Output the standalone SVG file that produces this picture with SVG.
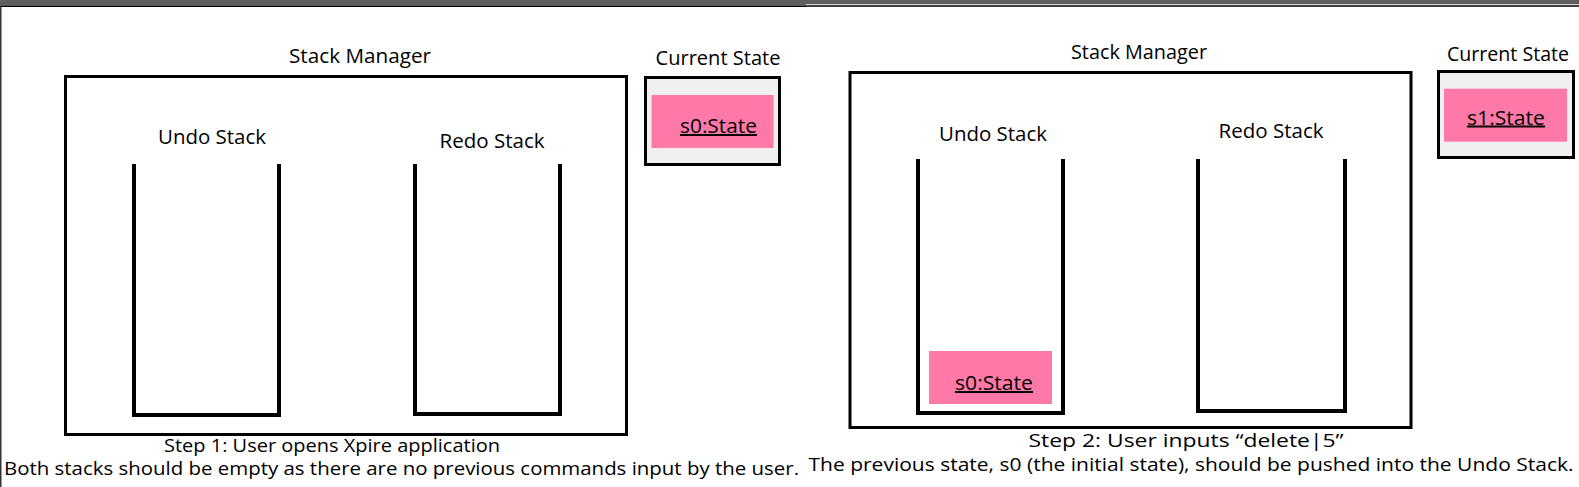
<svg xmlns="http://www.w3.org/2000/svg" width="1579" height="487" viewBox="0 0 1579 487">
<style>
text{font-family:"Open Sans","Noto Sans",sans-serif;font-size:20px;fill:#000;text-anchor:middle}
.cap{font-size:19px}
.frame{fill:none;stroke:#000;stroke-width:3}
.cur{fill:#f0f0f0;stroke:#000;stroke-width:3}
.pink{fill:#ff79a8}
.stack{fill:none;stroke:#000;stroke-width:4;stroke-linejoin:miter;stroke-linecap:square}
.u{text-decoration:underline}
</style>
<rect x="0" y="0" width="1579" height="487" fill="#fff"/>
<rect x="0" y="0" width="806" height="5.5" fill="#5f5f5f"/>
<rect x="0" y="5.5" width="806" height="1.5" fill="#000"/>
<rect x="806" y="0" width="773" height="4.3" fill="#5f5f5f"/>
<rect x="806" y="5.3" width="773" height="1.5" fill="#000"/>
<rect x="0" y="6" width="1.5" height="481" fill="#333"/>

<g id="panel1">
  <g id="stackManager1">
    <rect class="frame" x="65.5" y="76.5" width="561" height="358"/>
    <text x="360" y="63" textLength="142" lengthAdjust="spacingAndGlyphs">Stack Manager</text>
  </g>
  <g id="undoStack1">
    <text x="212" y="144" textLength="108" lengthAdjust="spacingAndGlyphs">Undo Stack</text>
    <path class="stack" d="M134 166 V415 H279 V166"/>
  </g>
  <g id="redoStack1">
    <text x="492" y="148" textLength="105" lengthAdjust="spacingAndGlyphs">Redo Stack</text>
    <path class="stack" d="M415 166 V414 H560 V166"/>
  </g>
  <g id="currentState1">
    <text x="718" y="65" textLength="125" lengthAdjust="spacingAndGlyphs">Current State</text>
    <rect class="cur" x="645.5" y="77.5" width="134" height="87"/>
    <rect class="pink" x="651.5" y="95" width="122" height="53"/>
    <text class="u" x="718.5" y="133" textLength="77" lengthAdjust="spacingAndGlyphs">s0:State</text>
  </g>
  <g id="caption1">
    <text class="cap" x="332" y="452" textLength="336" lengthAdjust="spacingAndGlyphs">Step 1: User opens Xpire application</text>
    <text class="cap" x="401.5" y="475" textLength="795" lengthAdjust="spacingAndGlyphs">Both stacks should be empty as there are no previous commands input by the user.</text>
  </g>
</g>

<g id="panel2">
  <g id="stackManager2">
    <rect class="frame" x="850" y="72.5" width="561" height="355"/>
    <text x="1139" y="59" textLength="136" lengthAdjust="spacingAndGlyphs">Stack Manager</text>
  </g>
  <g id="undoStack2">
    <text x="993" y="141" textLength="108" lengthAdjust="spacingAndGlyphs">Undo Stack</text>
    <path class="stack" d="M918 161 V413 H1063 V161"/>
    <rect class="pink" x="929" y="351" width="123" height="53"/>
    <text class="u" x="994" y="390" textLength="78" lengthAdjust="spacingAndGlyphs">s0:State</text>
  </g>
  <g id="redoStack2">
    <text x="1271" y="138" textLength="105" lengthAdjust="spacingAndGlyphs">Redo Stack</text>
    <path class="stack" d="M1198 161 V411 H1345 V161"/>
  </g>
  <g id="currentState2">
    <text x="1508" y="61" textLength="122" lengthAdjust="spacingAndGlyphs">Current State</text>
    <rect class="cur" x="1438.5" y="71.5" width="135" height="86"/>
    <rect class="pink" x="1444" y="88.7" width="123" height="53"/>
    <text class="u" x="1506" y="124.5" textLength="78" lengthAdjust="spacingAndGlyphs">s1:State</text>
  </g>
  <g id="caption2">
    <text class="cap" x="1186" y="447" textLength="315" lengthAdjust="spacingAndGlyphs">Step 2: User inputs “delete|5”</text>
    <text class="cap" x="1191" y="471" textLength="765" lengthAdjust="spacingAndGlyphs">The previous state, s0 (the initial state), should be pushed into the Undo Stack.</text>
  </g>
</g>
<g id="connectors"/>
</svg>
